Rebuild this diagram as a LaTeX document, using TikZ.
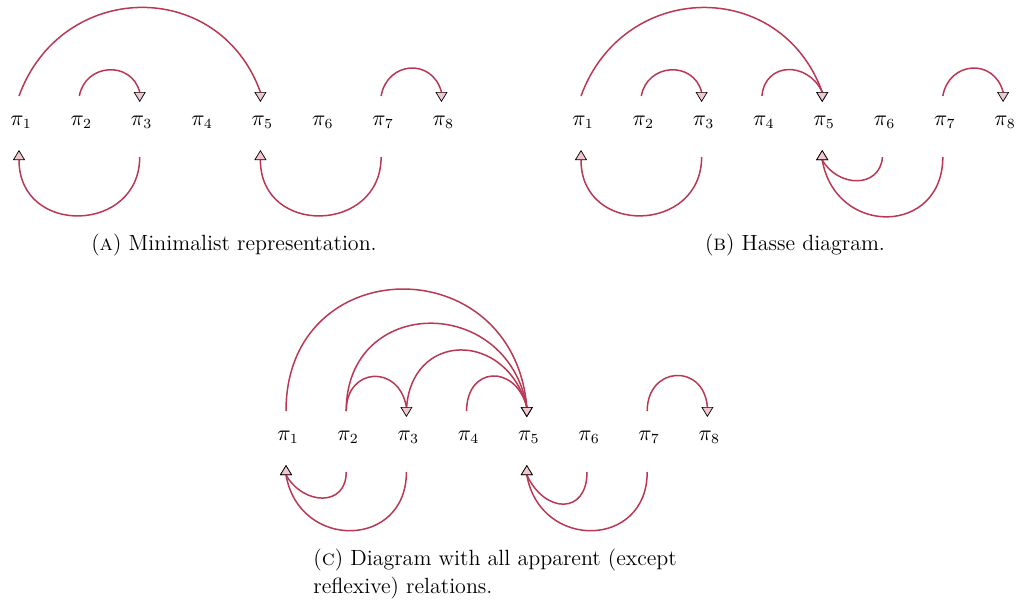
\documentclass[tikz,border=0pt]{standalone}
\usetikzlibrary{arrows.meta}
\definecolor{relcol}{RGB}{186,56,84}
\definecolor{tipfill}{RGB}{242,200,208}
\begin{document}
\begin{tikzpicture}[x=0.5pt,y=-0.5pt,
  lbl/.style={anchor=base,inner sep=0pt,font=\fontsize{10.5}{12}\selectfont},
  captxt/.style={anchor=base,inner sep=0pt,font=\fontsize{11}{13.6}\selectfont},
  rel/.style={draw=relcol,line width=0.75pt,-{Triangle[length=5pt,width=6pt,color=black,fill=tipfill,line width=0.35pt]}}]
\useasboundingbox (0,0) rectangle (1020,606);
\foreach \i in {1,...,8}{
  \pgfmathsetmacro{\xa}{19+60.35*(\i-1)}
  \pgfmathsetmacro{\xb}{581+60.3*(\i-1)}
  \pgfmathsetmacro{\xc}{286+60.2*(\i-1)}
  \node[lbl] (a\i) at (\xa+2,125) {$\pi_{\i}$};
  \coordinate (at\i) at (\xa,96);
  \coordinate (aE\i) at (\xa,92);
  \coordinate (aT\i) at (\xa,102);
  \coordinate (ab\i) at (\xa,157);
  \coordinate (aF\i) at (\xa,160);
  \coordinate (aB\i) at (\xa,150);
  \node[lbl] (b\i) at (\xb+2,125) {$\pi_{\i}$};
  \coordinate (bt\i) at (\xb,96);
  \coordinate (bE\i) at (\xb,92);
  \coordinate (bT\i) at (\xb,102);
  \coordinate (bb\i) at (\xb,157);
  \coordinate (bF\i) at (\xb,160);
  \coordinate (bB\i) at (\xb,150);
  \node[lbl] (c\i) at (\xc+2,440) {$\pi_{\i}$};
  \coordinate (ct\i) at (\xc,411);
  \coordinate (cE\i) at (\xc,407);
  \coordinate (cT\i) at (\xc,417);
  \coordinate (cb\i) at (\xc,472);
  \coordinate (cF\i) at (\xc,475);
  \coordinate (cB\i) at (\xc,465);
}
% (a)
\draw[rel] (at1) to[out=70,in=110,looseness=1.3] (aE5) -- (aT5);
\draw[rel] (at2) to[out=80,in=105,looseness=1.4] (aE3) -- (aT3);
\draw[rel] (at7) to[out=80,in=105,looseness=1.5] (aE8) -- (aT8);
\draw[rel] (ab3) to[out=-90,in=-90,looseness=1.62] (aF1) -- (aB1);
\draw[rel] (ab7) to[out=-90,in=-90,looseness=1.62] (aF5) -- (aB5);
% (b)
\draw[rel] (bt1) to[out=70,in=110,looseness=1.3] (bE5) -- (bT5);
\draw[rel] (bt2) to[out=80,in=105,looseness=1.4] (bE3) -- (bT3);
\draw[rel] (bt4) to[out=85,in=115,looseness=1.45] (bE5) -- (bT5);
\draw[rel] (bt7) to[out=80,in=105,looseness=1.5] (bE8) -- (bT8);
\draw[rel] (bb3) to[out=-90,in=-90,looseness=1.62] (bF1) -- (bB1);
\draw[rel] (bb6) to[out=-95,in=-60,looseness=1.35] (bF5) -- (bB5);
\draw[rel] (bb7) to[out=-90,in=-80,looseness=1.66] (bF5) -- (bB5);
% (c)
\draw[rel] (ct1) to[out=90,in=95,looseness=1.7] (cE5) -- (cT5);
\draw[rel] (ct2) to[out=90,in=100,looseness=1.63] (cE5) -- (cT5);
\draw[rel] (ct3) to[out=88,in=105,looseness=1.7] (cE5) -- (cT5);
\draw[rel] (ct2) to[out=90,in=100,looseness=1.86] (cE3) -- (cT3);
\draw[rel] (ct4) to[out=90,in=105,looseness=1.9] (cE5) -- (cT5);
\draw[rel] (ct7) to[out=90,in=95,looseness=1.9] (cE8) -- (cT8);
\draw[rel] (cb2) to[out=-90,in=-60,looseness=1.49] (cF1) -- (cB1);
\draw[rel] (cb3) to[out=-90,in=-80,looseness=1.63] (cF1) -- (cB1);
\draw[rel] (cb6) to[out=-90,in=-65,looseness=1.82] (cF5) -- (cB5);
\draw[rel] (cb7) to[out=-90,in=-80,looseness=1.63] (cF5) -- (cB5);
% captions
\node[captxt] (capa) at (234,250) {(\textsc{a}) Minimalist representation.};
\node[captxt] (capb) at (795,250) {(\textsc{b}) Hasse diagram.};
\node[captxt,anchor=base west] (capc1) at (313,565) {(\textsc{c}) Diagram with all apparent (except};
\node[captxt,anchor=base west] (capc2) at (313,593) {reflexive) relations.};
\end{tikzpicture}
\end{document}
